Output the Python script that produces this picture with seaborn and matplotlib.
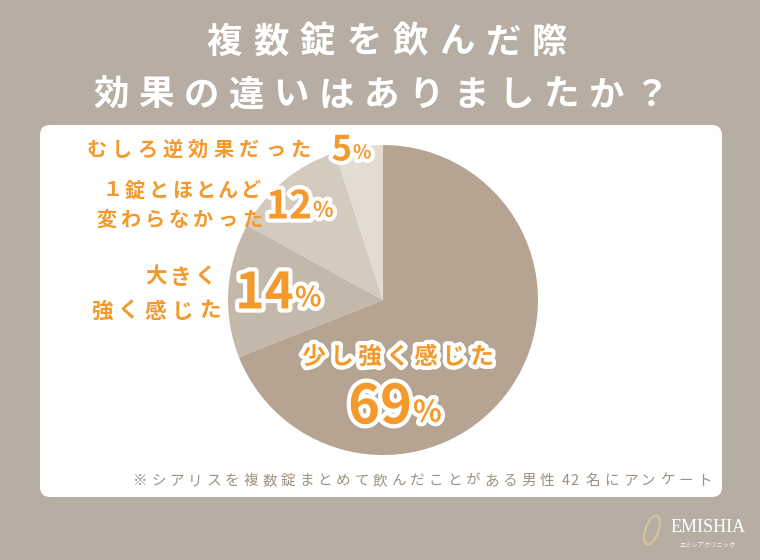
import matplotlib
matplotlib.use("Agg")
import matplotlib.pyplot as plt
import matplotlib.patheffects as pe
from matplotlib.patches import FancyBboxPatch, Ellipse
import seaborn as sns

# data
labels = ["少し強く感じた", "大きく\n強く感じた", "１錠とほとんど\n変わらなかった", "むしろ逆効果だった"]
values = [69, 14, 12, 5]
slice_colors = ["#b4a491", "#c4b8aa", "#d4cabe", "#e3dcd3"]
title_lines = ["複数錠を飲んだ際", "効果の違いはありましたか？"]
note = "※シアリスを複数錠まとめて飲んだことがある男性 42 名にアンケート"

sns.set_theme(style="white")
plt.rcParams['font.family'] = ['Noto Sans CJK JP', 'DejaVu Sans']

BG = "#b7ada2"
ORANGE = "#f4992c"
H = 560

fig = plt.figure(figsize=(7.6, 5.6), dpi=100, facecolor=BG)
ax = fig.add_axes([0, 0, 1, 1])


def Y(py):
    return H - py


def spaced(x, py, s, size, step, ha="left", **kw):
    # draw a string char by char with a fixed advance (letter spacing)
    adv = []
    for ch in s:
        if ch == " ":
            adv.append(step * 0.25)
        elif ord(ch) < 128:
            adv.append(step * 0.5)
        else:
            adv.append(step)
    width = sum(adv)
    if ha == "right":
        x0 = x - width
    elif ha == "center":
        x0 = x - width / 2
    else:
        x0 = x
    for ch, a in zip(s, adv):
        if ch != " ":
            ax.text(x0 + a / 2, Y(py), ch, fontsize=size, ha="center", va="center", **kw)
        x0 += a


# pie
wedges, _ = ax.pie(values, colors=slice_colors, startangle=90, counterclock=False,
                   center=(383, Y(300)), radius=155, frame=True,
                   wedgeprops=dict(linewidth=0, zorder=2))
ax.set_xlim(0, 760)
ax.set_ylim(0, H)
ax.set_aspect("equal")
ax.axis("off")

# white panel
panel = FancyBboxPatch((40, Y(497)), 682, 372, boxstyle="round,pad=0,rounding_size=10",
                       facecolor="white", edgecolor="none", zorder=1)
ax.add_patch(panel)

# title
spaced(387, 42, title_lines[0], 25.5, 46.5, ha="center", color="white", fontweight="bold")
spaced(381, 95, title_lines[1], 25.5, 45, ha="center", color="white", fontweight="bold")

stroke = [pe.withStroke(linewidth=6, foreground="white")]
num_kw = dict(color=ORANGE, fontweight="bold", va="center", zorder=5, path_effects=stroke)


def pct(xr, py, v, size):
    ax.text(xr, Y(py), str(v), fontsize=size, ha="right", **num_kw)
    ax.text(xr + 1, Y(py + size * 0.12), "%", fontsize=size * 0.55, ha="left", **num_kw)


lab_kw = dict(color=ORANGE, fontweight="bold", zorder=5)

# 5%
spaced(313, 149, "むしろ逆効果だった", 14.5, 25.5, ha="right", **lab_kw)
pct(352, 150, values[3], 25)

# 12%
l1, l2 = labels[2].split("\n")
spaced(263, 190, l1, 14.5, 23.2, ha="right", **lab_kw)
spaced(264, 219, l2, 14.5, 24.3, ha="right", **lab_kw)
pct(312, 207, values[2], 28)

# 14%
l1, l2 = labels[1].split("\n")
spaced(218, 277, l1, 15.5, 25, ha="right", **lab_kw)
spaced(223, 311, l2, 15.5, 27, ha="right", **lab_kw)
pct(294, 294, values[1], 36)

# 69%
spaced(398, 357, labels[0], 17, 28, ha="center", path_effects=stroke, **lab_kw)
pct(412, 408, values[0], 39)

# footnote
spaced(422, 481, note, 10.5, 18.5, ha="center", color="#9d9185")

# logo
ax.add_patch(Ellipse((652, Y(530)), 13, 30, angle=-20, facecolor="none",
                     edgecolor="#d8c39a", linewidth=1.5, zorder=3))
ax.text(708, Y(528), "EMISHIA", fontsize=13, family="Liberation Serif", color="white",
        ha="center", va="center")
ax.text(708, Y(544), "エミシアクリニック", fontsize=4.5, color="white", ha="center", va="center")

fig.savefig("out.png", dpi=100, facecolor=BG)
